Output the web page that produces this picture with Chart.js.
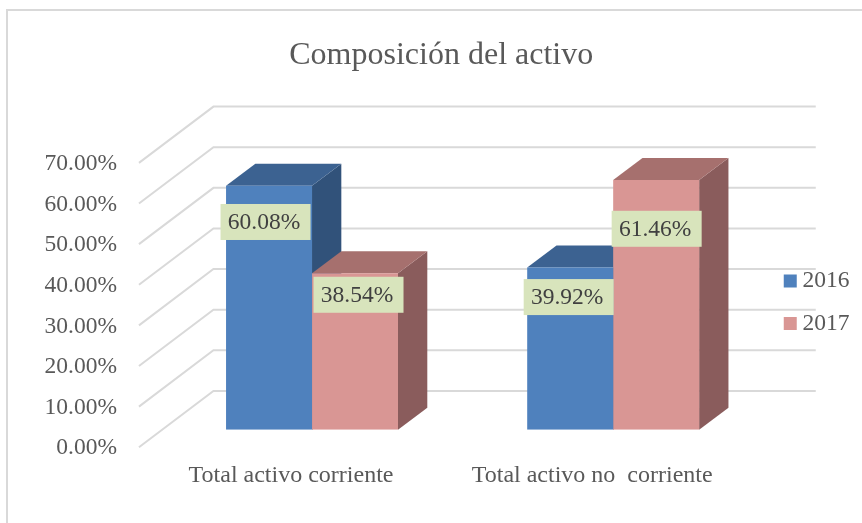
<!DOCTYPE html>
<html lang="es">
<head>
<meta charset="utf-8">
<title>Composición del activo</title>
<script src="https://cdn.jsdelivr.net/npm/chart.js@4/dist/chart.umd.min.js"></script>
<style>
    html, body { margin: 0; padding: 0; background: #fff; }
    canvas { display: block; }
</style>
</head>
<body>
<canvas id="activoChart" width="862" height="523"></canvas>
<script>
// Datos
const categories = ['Total activo corriente', 'Total activo no  corriente'];
const series2016 = [60.08, 39.92];
const series2017 = [38.54, 61.46];
const seriesNames = ['2016', '2017'];
const axisMax = 70;
const axisStep = 10;

// Colores
const COLORS = {
    grid: '#d9d9d9',
    axisText: '#595959',
    labelText: '#404040',
    labelBox: '#d8e4bc',
    blue: '#4f81bd',
    blueTop: '#3c6291',
    blueSide: '#31527a',
    pink: '#d99694',
    pinkTop: '#a6706e',
    pinkSide: '#8a5c5c'
};

const FONT = "'Liberation Serif', 'Times New Roman', serif";
const TEXT_SIZE = 23.5;

// Profundidad de la vista 3D, en pixeles, respecto al plano de las barras
const BAR_DEPTH = { x: 29.3, y: 22 };
const WALL_BACK = { x: 52, y: 38.8 };
const WALL_FRONT = { x: 22.5, y: 17.5 };

// Etiquetas colocadas a mano en el original: desplazamiento desde el centro superior de la barra
const LABEL_BOX = { w: 90, h: 36 };
const LABEL_SHIFT = [
    [[-3.5, 36.3], [-1.5, 29.5]],
    [[3.5, 21.6], [0.5, 48.7]]
];

const SIDES = [
    { top: COLORS.blueTop, side: COLORS.blueSide },
    { top: COLORS.pinkTop, side: COLORS.pinkSide }
];

function poly(ctx, color, pts) {
    ctx.beginPath();
    pts.forEach((p, i) => (i ? ctx.lineTo(p[0], p[1]) : ctx.moveTo(p[0], p[1])));
    ctx.closePath();
    ctx.fillStyle = color;
    ctx.fill();
}

/**
 * Marco de la imagen, paredes con la rejilla y caras 3D de las barras
 */
const depthPlugin = {
    id: 'depth',
    afterLayout(chart) {
        // El titulo y la leyenda no estan centrados en el original
        chart.titleBlock.left += 15;
        chart.titleBlock.right += 15;
        chart.legend.left += 7;
        chart.legend.right += 7;
        chart.legend.top += 41;
        chart.legend.bottom += 41;
    },
    beforeDatasetsDraw(chart) {
        const { ctx, chartArea, scales } = chart;
        ctx.save();

        ctx.strokeStyle = COLORS.grid;
        ctx.lineWidth = 2;
        ctx.beginPath();
        ctx.moveTo(7, 523);
        ctx.lineTo(7, 10);
        ctx.lineTo(862, 10);
        ctx.stroke();

        scales.y.ticks.forEach(tick => {
            const y = scales.y.getPixelForValue(tick.value);
            ctx.beginPath();
            ctx.moveTo(chartArea.left - WALL_FRONT.x, y + WALL_FRONT.y);
            ctx.lineTo(chartArea.left + WALL_BACK.x, y - WALL_BACK.y);
            ctx.lineTo(chartArea.right + WALL_BACK.x, y - WALL_BACK.y);
            ctx.stroke();
        });

        chart.data.datasets.forEach((ds, d) => {
            chart.getDatasetMeta(d).data.forEach(bar => {
                const half = bar.width / 2;
                const l = bar.x - half, r = bar.x + half;
                const dx = BAR_DEPTH.x, dy = BAR_DEPTH.y;
                poly(ctx, SIDES[d].side, [[r, bar.y], [r + dx, bar.y - dy], [r + dx, bar.base - dy], [r, bar.base]]);
                poly(ctx, SIDES[d].top, [[l, bar.y], [l + dx, bar.y - dy], [r + dx, bar.y - dy], [r, bar.y]]);
            });
        });
        ctx.restore();
    },
    afterDatasetsDraw(chart) {
        const { ctx } = chart;
        ctx.save();
        ctx.font = TEXT_SIZE + 'px ' + FONT;
        ctx.textAlign = 'center';
        ctx.textBaseline = 'middle';
        chart.data.datasets.forEach((ds, d) => {
            chart.getDatasetMeta(d).data.forEach((bar, i) => {
                const cx = bar.x + LABEL_SHIFT[d][i][0];
                const cy = bar.y + LABEL_SHIFT[d][i][1];
                ctx.fillStyle = COLORS.labelBox;
                ctx.fillRect(cx - LABEL_BOX.w / 2, cy - LABEL_BOX.h / 2, LABEL_BOX.w, LABEL_BOX.h);
                ctx.fillStyle = COLORS.labelText;
                ctx.fillText(ds.data[i].toFixed(2) + '%', cx - 1.5, cy + 1);
            });
        });
        ctx.restore();
    }
};

new Chart(document.getElementById('activoChart'), {
    type: 'bar',
    data: {
        labels: categories,
        datasets: [
            { label: seriesNames[0], data: series2016, backgroundColor: COLORS.blue, borderWidth: 0 },
            { label: seriesNames[1], data: series2017, backgroundColor: COLORS.pink, borderWidth: 0 }
        ]
    },
    plugins: [depthPlugin],
    options: {
        responsive: false,
        animation: false,
        categoryPercentage: 0.571,
        barPercentage: 1,
        layout: { padding: { left: 0, right: 9.5, top: 0, bottom: 0.5 } },
        plugins: {
            tooltip: { enabled: false },
            title: {
                display: true,
                text: 'Composición del activo',
                color: COLORS.axisText,
                font: { family: FONT, size: 32, weight: 'normal' },
                padding: { top: 36, bottom: 71 }
            },
            legend: {
                position: 'right',
                labels: {
                    usePointStyle: true,
                    pointStyle: 'rect',
                    boxWidth: 1,
                    boxHeight: 13,
                    padding: 19,
                    color: COLORS.axisText,
                    font: { family: FONT, size: TEXT_SIZE }
                }
            }
        },
        scales: {
            x: {
                grid: { display: false, drawTicks: false },
                border: { display: false },
                ticks: {
                    color: COLORS.axisText,
                    font: { family: FONT, size: 24 },
                    padding: 32,
                    labelOffset: -21,
                    maxRotation: 0,
                    autoSkip: false
                }
            },
            y: {
                min: 0,
                max: axisMax,
                grid: { display: false, drawTicks: false },
                border: { display: false },
                ticks: {
                    stepSize: axisStep,
                    color: COLORS.axisText,
                    font: { family: FONT, size: TEXT_SIZE },
                    padding: 44.5,
                    labelOffset: 18.5,
                    callback: value => value.toFixed(2) + '%'
                }
            }
        }
    }
});
</script>
</body>
</html>
